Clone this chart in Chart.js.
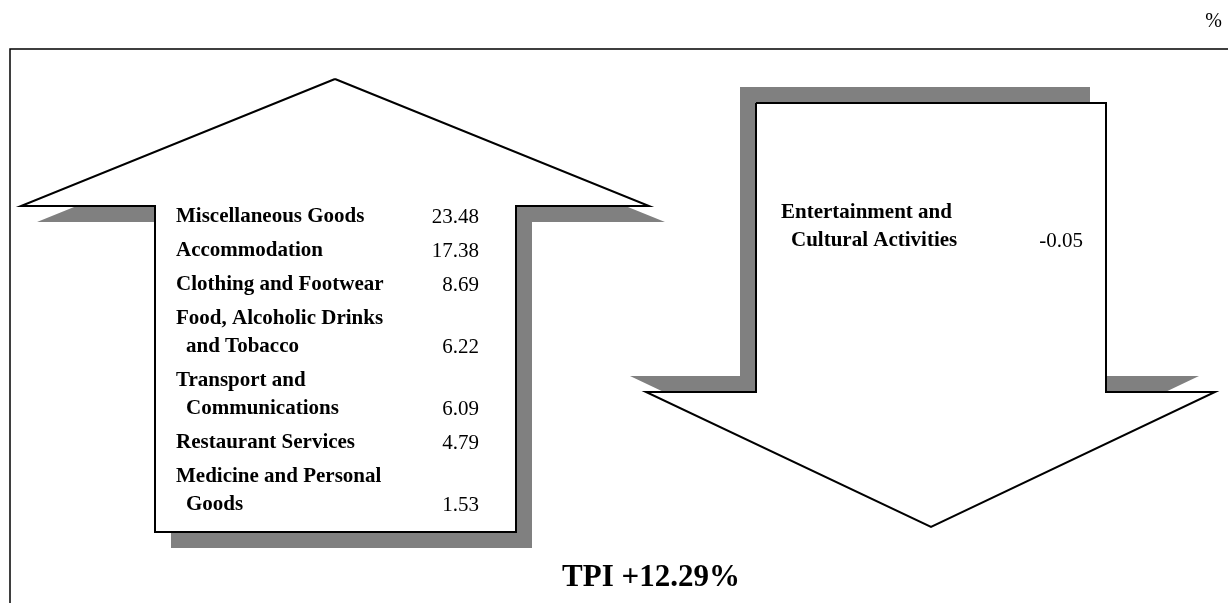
<!DOCTYPE html>
<html lang="en">
<head>
  <meta charset="UTF-8">
  <title>TPI by component</title>
  <style>
    html, body {
      margin: 0;
      padding: 0;
      background-color: white;
    }
    .chart-container {
      position: relative;
      width: 1228px;
      height: 603px;
    }
  </style>
</head>
<body>
  <div class="chart-container">
    <canvas id="tpi-chart"></canvas>
  </div>

  <script src="https://cdn.jsdelivr.net/npm/chart.js@4.4.0/dist/chart.umd.min.js"></script>
  <script>
    // components that went up
    const UP_LABELS = [
      ['Miscellaneous Goods'],
      ['Accommodation'],
      ['Clothing and Footwear'],
      ['Food, Alcoholic Drinks', 'and Tobacco'],
      ['Transport and', 'Communications'],
      ['Restaurant Services'],
      ['Medicine and Personal', 'Goods']
    ];
    const UP_VALUES = [23.48, 17.38, 8.69, 6.22, 6.09, 4.79, 1.53];

    // components that went down
    const DOWN_LABELS = [
      ['Entertainment and', 'Cultural Activities']
    ];
    const DOWN_VALUES = [-0.05];

    const TPI_LABEL = 'TPI';
    const TPI_VALUE = 12.29;
    const UNIT_LABEL = '%';

    // drawing layout (page units, y grows downwards)
    const UP_ARROW = [[335, 79], [649, 206], [516, 206], [516, 532], [155, 532], [155, 206], [21, 206], [335, 79]];
    const DOWN_ARROW = [[756, 103], [1106, 103], [1106, 392], [1215, 392], [931, 527], [646, 392], [756, 392], [756, 103]];
    const FRAME = [[10, 603], [10, 49], [1228, 49]];
    const UP_SHADOW = [16, 16];
    const DOWN_SHADOW = [-16, -16];

    const SERIF = '"Liberation Serif", "Times New Roman", serif';

    function toPoints(poly, dx = 0, dy = 0) {
      return poly.map(p => ({ x: p[0] + dx, y: p[1] + dy }));
    }

    function shapeDataset(poly, fillColor, borderColor, order) {
      return {
        data: toPoints(poly),
        showLine: true,
        fill: 'shape',
        backgroundColor: fillColor,
        borderColor: borderColor,
        borderWidth: borderColor ? 2 : 0,
        borderJoinStyle: 'miter',
        pointRadius: 0,
        tension: 0,
        order
      };
    }

    const labelsPlugin = {
      id: 'labels',
      afterDatasetsDraw(chart) {
        const ctx = chart.ctx;
        const xs = chart.scales.x;
        const ys = chart.scales.y;
        const px = v => xs.getPixelForValue(v);
        const py = v => ys.getPixelForValue(v);

        ctx.save();
        ctx.fillStyle = '#000';
        ctx.textBaseline = 'middle';

        const drawList = (labels, values, x0, xv, y0, wrap, gap) => {
          let y = y0;
          labels.forEach((lines, i) => {
            lines.forEach((line, j) => {
              ctx.font = `bold 21px ${SERIF}`;
              ctx.textAlign = 'left';
              ctx.fillText(line, px(j === 0 ? x0 : x0 + 10), py(y));
              if (j < lines.length - 1) y += wrap;
            });
            ctx.font = `21px ${SERIF}`;
            ctx.textAlign = 'right';
            ctx.fillText(values[i].toFixed(2), px(xv), py(y));
            y += gap;
          });
        };

        drawList(UP_LABELS, UP_VALUES, 176, 479, 217, 28, 34);
        drawList(DOWN_LABELS, DOWN_VALUES, 781, 1083, 213, 28, 34);

        ctx.font = `bold 31px ${SERIF}`;
        ctx.textAlign = 'center';
        ctx.fillText(`${TPI_LABEL} +${TPI_VALUE.toFixed(2)}%`, px(651), py(578));

        ctx.font = `20px ${SERIF}`;
        ctx.textAlign = 'right';
        ctx.fillText(UNIT_LABEL, px(1222), py(22));
        ctx.restore();
      }
    };

    const ctx = document.getElementById('tpi-chart');
    new Chart(ctx, {
      type: 'scatter',
      data: {
        datasets: [
          {
            data: toPoints(FRAME),
            showLine: true,
            fill: false,
            borderColor: '#000',
            borderWidth: 1.5,
            pointRadius: 0,
            order: 0
          },
          shapeDataset(UP_ARROW, '#fff', '#000', 1),
          shapeDataset(DOWN_ARROW, '#fff', '#000', 1),
          shapeDataset(UP_ARROW.map(p => [p[0] + UP_SHADOW[0], p[1] + UP_SHADOW[1]]), '#808080', null, 2),
          shapeDataset(DOWN_ARROW.map(p => [p[0] + DOWN_SHADOW[0], p[1] + DOWN_SHADOW[1]]), '#808080', null, 2)
        ]
      },
      plugins: [labelsPlugin],
      options: {
        responsive: true,
        maintainAspectRatio: false,
        animation: false,
        layout: { padding: 0 },
        scales: {
          x: { type: 'linear', min: 0, max: 1228, display: false },
          y: { type: 'linear', min: 0, max: 603, reverse: true, display: false }
        },
        plugins: {
          legend: { display: false },
          tooltip: { enabled: false }
        }
      }
    });
  </script>
</body>
</html>
